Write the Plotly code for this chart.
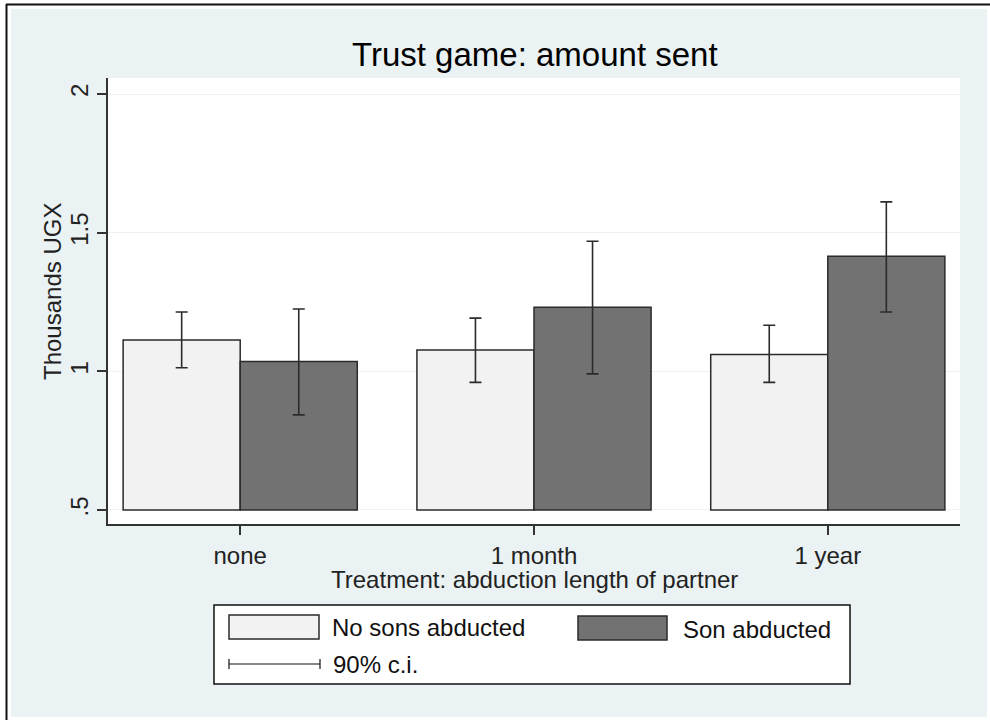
import plotly.graph_objects as go

categories = ["none", "1 month", "1 year"]
no_sons = [1.113, 1.077, 1.061]
no_sons_lo = [1.013, 0.960, 0.960]
no_sons_hi = [1.214, 1.192, 1.166]
son = [1.035, 1.231, 1.415]
son_lo = [0.843, 0.991, 1.214]
son_hi = [1.225, 1.469, 1.611]
y_ticks = [0.5, 1, 1.5, 2]
y_ticklabels = [".5", "1", "1.5", "2"]

BG = "#eaf2f3"
LIGHT = "#f2f2f2"
DARK = "#727272"
EDGE = "#2b2b2b"
FONT = "Liberation Sans, Arial, sans-serif"
FS = 24

# plot area in pixels
L, R, T, B = 108, 960, 78, 524
W, H = 990, 720
pw, ph = R - L, B - T

def px(x):
    return (x - L) / pw

def py(y):
    return (B - y) / ph

def bars(name, vals, lo, hi, color):
    base = 0.5
    return go.Bar(
        name=name, x=categories, y=[v - base for v in vals], base=base,
        marker=dict(color=color, line=dict(color=EDGE, width=1.5)),
        error_y=dict(type="data", symmetric=False,
                     array=[h - v for h, v in zip(hi, vals)],
                     arrayminus=[v - l for v, l in zip(vals, lo)],
                     color=EDGE, thickness=1.6, width=6),
        showlegend=False,
    )

fig = go.Figure([
    bars("No sons abducted", no_sons, no_sons_lo, no_sons_hi, LIGHT),
    bars("Son abducted", son, son_lo, son_hi, DARK),
])

shapes = []
# white outer margins + frame lines (paper coords)
shapes.append(dict(type="rect", xref="paper", yref="paper", layer="below",
                   x0=px(0), x1=px(11), y0=py(0), y1=py(H), fillcolor="white", line_width=0))
shapes.append(dict(type="rect", xref="paper", yref="paper", layer="below",
                   x0=px(0), x1=px(W), y0=py(0), y1=py(9), fillcolor="white", line_width=0))
shapes.append(dict(type="rect", xref="paper", yref="paper", layer="below",
                   x0=px(987), x1=px(W), y0=py(0), y1=py(H), fillcolor="white", line_width=0))
shapes.append(dict(type="rect", xref="paper", yref="paper", layer="below",
                   x0=px(0), x1=px(W), y0=py(717), y1=py(H), fillcolor="white", line_width=0))
shapes.append(dict(type="line", xref="paper", yref="paper",
                   x0=px(6), x1=px(W), y0=py(4.5), y1=py(4.5), line=dict(color="#111", width=2)))
shapes.append(dict(type="line", xref="paper", yref="paper",
                   x0=px(6.5), x1=px(6.5), y0=py(4), y1=py(H), line=dict(color="#111", width=2)))

# legend box
shapes.append(dict(type="rect", xref="paper", yref="paper",
                   x0=px(214), x1=px(850), y0=py(605), y1=py(684),
                   fillcolor="white", line=dict(color="#111", width=1.5)))
shapes.append(dict(type="rect", xref="paper", yref="paper",
                   x0=px(229), x1=px(319), y0=py(615), y1=py(639),
                   fillcolor=LIGHT, line=dict(color=EDGE, width=1.5)))
shapes.append(dict(type="rect", xref="paper", yref="paper",
                   x0=px(578), x1=px(667), y0=py(616), y1=py(640),
                   fillcolor=DARK, line=dict(color=EDGE, width=1.5)))
shapes.append(dict(type="line", xref="paper", yref="paper",
                   x0=px(229), x1=px(320), y0=py(664), y1=py(664),
                   line=dict(color="#111", width=1.2)))
for xx in (229, 320):
    shapes.append(dict(type="line", xref="paper", yref="paper",
                       x0=px(xx), x1=px(xx), y0=py(659), y1=py(669),
                       line=dict(color="#111", width=1.2)))

def ann(text, x, y, xanchor="left", size=FS, color="#111", angle=0):
    return dict(text=text, xref="paper", yref="paper", x=px(x), y=py(y),
                xanchor=xanchor, yanchor="middle", showarrow=False, textangle=angle,
                font=dict(size=size, color=color, family=FONT))

annotations = [
    ann("No sons abducted", 330, 627),
    ann("Son abducted", 681, 629),
    ann("90% c.i.", 331, 664),
    ann("Trust game: amount sent", 535, 54, "center", 33, "#000"),
    ann("Treatment: abduction length of partner", 534, 579, "center", FS, "#222"),
    ann("Thousands UGX", 52, 291, "center", FS, "#222", -90),
]

fig.update_layout(
    width=W, height=H,
    margin=dict(l=L, r=W - R, t=T, b=H - B, pad=0),
    paper_bgcolor=BG, plot_bgcolor="white",
    barmode="group", bargap=0.203, bargroupgap=0,
    font=dict(family=FONT, size=FS, color="#222"),
    shapes=shapes, annotations=annotations,
    showlegend=False,
)
fig.update_xaxes(
    categoryorder="array", categoryarray=categories, range=[-0.45, 2.45],
    showline=True, linecolor="#333", linewidth=1.5, mirror=False,
    ticks="outside", ticklen=9, tickcolor="#333", tickwidth=1.5,
    showgrid=False, zeroline=False,
    tickfont=dict(size=FS, color="#222"),
)
fig.update_yaxes(
    range=[0.4495, 2.0577], tickvals=y_ticks, ticktext=y_ticklabels,
    tickangle=-90,
    showline=True, linecolor="#333", linewidth=1.5,
    ticks="outside", ticklen=9, tickcolor="#333", tickwidth=1.5,
    showgrid=True, gridcolor=BG, gridwidth=1, zeroline=False,
    tickfont=dict(size=FS, color="#222"),
)

fig.write_html("out.html", config={"displayModeBar": False},
               post_script="document.body.style.margin='0';")
